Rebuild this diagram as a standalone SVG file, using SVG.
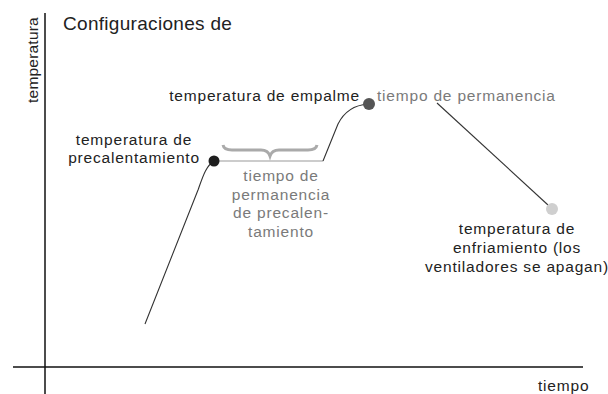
<svg xmlns="http://www.w3.org/2000/svg" width="608" height="394" viewBox="0 0 608 394">
<style>
text{font-family:"Liberation Sans",Arial,sans-serif;font-size:15.5px;letter-spacing:0.8px;fill:#222}
.g{fill:#7a7a7a}
.c{text-anchor:middle}
.e{text-anchor:end}
.ax{stroke:#111;stroke-width:1.5;fill:none}
.cv{stroke:#333;stroke-width:1.1;fill:none}
</style>
<rect width="608" height="394" fill="#fff"/>
<g id="axes">
<line class="ax" x1="45" y1="13" x2="45" y2="394"/>
<line class="ax" x1="13" y1="367" x2="583" y2="367"/>
<text class="c" transform="translate(37.5,60) rotate(-90)" style="letter-spacing:0.2px">temperatura</text>
<text x="538" y="391">tiempo</text>
</g>
<text id="title" x="63" y="30" style="font-size:19px;letter-spacing:0.3px">Configuraciones de</text>
<g id="connectors">
<path class="cv" d="M145,324 L198,190 C203,176 206,166 214,161"/>
<line x1="214" y1="161" x2="323" y2="161" stroke="#999" stroke-width="1.2"/>
<path class="cv" d="M323,161 L338,124 C345,110 355,105 368,104"/>
<line class="cv" x1="437" y1="103" x2="548" y2="205"/>
<path d="M223,145 Q224,150 232,150 L261,150 Q268,150 270,156 Q272,150 279,150 L308,150 Q316,150 317,145" fill="none" stroke="#aaa" stroke-width="3"/>
</g>
<g id="preheat">
<circle cx="214" cy="161" r="5.5" fill="#1e1e1e"/>
<text class="c" x="134" y="145">temperatura de</text>
<text class="c" x="134" y="162.5">precalentamiento</text>
</g>
<g id="preheat-dwell">
<text class="c g" x="281" y="181">tiempo de</text>
<text class="c g" x="281" y="199.5">permanencia</text>
<text class="c g" x="281" y="218">de precalen-</text>
<text class="c g" x="281" y="236.5">tamiento</text>
</g>
<g id="joint">
<circle cx="369" cy="104" r="6" fill="#555"/>
<text class="e" x="360" y="101">temperatura de empalme</text>
</g>
<g id="dwell">
<text class="g" x="377" y="101">tiempo de permanencia</text>
</g>
<g id="cooling">
<circle cx="552" cy="209" r="6" fill="#cfcfcf"/>
<text class="c" x="517" y="234">temperatura de</text>
<text class="c" x="517" y="253">enfriamiento (los</text>
<text class="c" x="517" y="272">ventiladores se apagan)</text>
</g>
</svg>
